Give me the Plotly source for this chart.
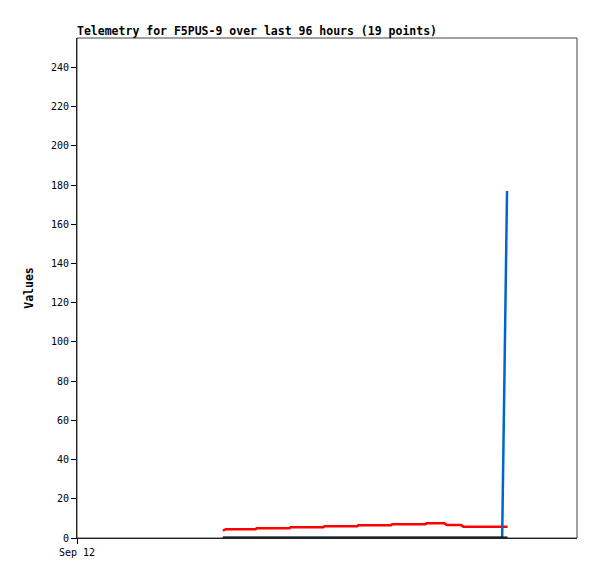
import plotly.graph_objects as go

# Time stamps (window starts Sep 12)
red_times = [
    "2023-09-13 04:00", "2023-09-13 04:36", "2023-09-13 10:18", "2023-09-13 10:30",
    "2023-09-13 16:48", "2023-09-13 17:00", "2023-09-13 23:18", "2023-09-13 23:30",
    "2023-09-14 05:48", "2023-09-14 06:00", "2023-09-14 12:18", "2023-09-14 12:30",
    "2023-09-14 18:54", "2023-09-14 19:06", "2023-09-14 22:30", "2023-09-14 23:00",
    "2023-09-15 01:42", "2023-09-15 02:12", "2023-09-15 10:40",
]
red_values = [3.8, 4.5, 4.5, 5.0, 5.0, 5.5, 5.5, 6.0, 6.0, 6.5, 6.5, 7.0,
              7.0, 7.5, 7.5, 6.6, 6.6, 5.8, 5.8]

blue_times = ["2023-09-13 04:00", "2023-09-15 09:38", "2023-09-15 10:34"]
blue_values = [0, 0, 177]

black_times = ["2023-09-13 04:00", "2023-09-15 10:40"]
black_values = [0, 0]

x_range = ["2023-09-12 00:00", "2023-09-16 00:00"]
x_tickvals = ["2023-09-12 00:00"]
x_ticktext = ["Sep 12"]
y_range = [0, 255]

mono = "DejaVu Sans Mono"

fig = go.Figure()
fig.add_trace(go.Scatter(x=red_times, y=red_values, mode="lines",
                         line=dict(color="#ff0000", width=2.5), showlegend=False))
fig.add_trace(go.Scatter(x=blue_times, y=blue_values, mode="lines",
                         line=dict(color="#0066cc", width=2.5), showlegend=False))
fig.add_trace(go.Scatter(x=black_times, y=black_values, mode="lines",
                         line=dict(color="#000000", width=3), showlegend=False))

# page body adds an 8px margin, so the figure is 8px smaller each way
fig.update_layout(
    width=589, height=571,
    margin=dict(l=69, r=20, t=30, b=41),
    plot_bgcolor="white", paper_bgcolor="white",
    title=dict(text="<b>Telemetry for F5PUS-9 over last 96 hours (19 points)</b>",
               font=dict(family=mono, size=11.5, color="black"),
               xref="paper", x=0, xanchor="left",
               yref="container", y=1 - 23 / 571, yanchor="middle"),
    xaxis=dict(type="date", range=x_range, tickvals=x_tickvals, ticktext=x_ticktext,
               showgrid=False, zeroline=False, ticks="outside", ticklen=5,
               tickcolor="black", showline=True, linecolor="black", linewidth=1,
               tickfont=dict(family=mono, size=10, color="black")),
    yaxis=dict(range=y_range, dtick=20, showgrid=False, zeroline=False,
               ticks="outside", ticklen=5, tickcolor="black",
               showline=True, linecolor="black", linewidth=1,
               tickfont=dict(family=mono, size=10, color="black"),
               title=dict(text="<b>Values</b>", font=dict(family=mono, size=11.5, color="black"),
                          standoff=14)),
    shapes=[dict(type="rect", xref="paper", yref="paper", x0=0, y0=0, x1=1, y1=1,
                 line=dict(color="#444444", width=1), layer="above")],
)

fig.write_html("out.html")
